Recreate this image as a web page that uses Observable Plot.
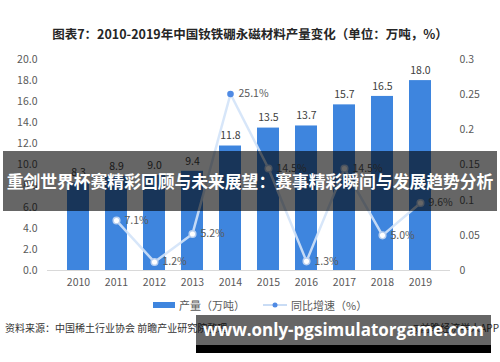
<!DOCTYPE html>
<html>
<head>
<meta charset="utf-8">
<script src="https://cdn.jsdelivr.net/npm/d3@7"></script>
<script src="https://cdn.jsdelivr.net/npm/@observablehq/plot@0.6"></script>
<style>
  html, body { margin: 0; padding: 0; background: #fff; }
  #wrap { position: relative; width: 500px; height: 362px; overflow: hidden; font-family: "Noto Sans CJK SC", "Noto Sans", sans-serif; }
  #chart { position: absolute; left: 0; top: 0; }
  .abs { position: absolute; white-space: nowrap; }
</style>
</head>
<body>
<div id="wrap">
  <div id="chart"></div>
  <div class="abs" id="title" style="left:0;width:500px;top:24px;text-align:center;font-size:12.5px;font-weight:bold;color:#262626;"></div>
  <div class="abs" id="legend" style="left:153px;top:297px;font-size:11px;color:#595959;display:flex;align-items:center;"></div>
  <div class="abs" id="source" style="left:5px;top:320px;font-size:10px;color:#333;"></div>
  <div class="abs" id="credit" style="right:1px;top:320px;font-size:10px;color:#333;"></div>
  <div class="abs" id="banner" style="left:3px;width:494px;top:151px;height:60px;background:rgba(0,0,0,0.6);color:#fff;font-weight:bold;font-size:16.8px;line-height:60px;text-align:center;"></div>
  <div class="abs" id="url" style="left:196px;width:295px;top:315px;height:38px;background:linear-gradient(to bottom, rgba(0,0,0,0.6) 0px, rgba(0,0,0,0.6) 30px, #000 30px, #000 38px);color:#fff;font-weight:bold;font-family:'Open Sans','Noto Sans',sans-serif;font-size:17px;line-height:30px;text-align:center;"></div>
</div>
<script>
// ---- data ----
const years = ["2010","2011","2012","2013","2014","2015","2016","2017","2018","2019"];
const production = [8.3, 8.9, 9.0, 9.4, 11.8, 13.5, 13.7, 15.7, 16.5, 18.0];
const growth = [null, 7.1, 1.2, 5.2, 25.1, 14.5, 1.3, 14.5, 5.0, 9.6];
const leftTicks = [0, 2, 4, 6, 8, 10, 12, 14, 16, 18, 20];
const rightTicks = [0, 0.05, 0.1, 0.15, 0.2, 0.25, 0.3];
const highlightYear = "2014";

const titleText = "图表7：2010-2019年中国钕铁硼永磁材料产量变化（单位：万吨，%）";
const legendBar = "产量（万吨）";
const legendLine = "同比增速（%）";
const sourceText = "资料来源：中国稀土行业协会  前瞻产业研究院整理";
const creditText = "@前瞻经济学人APP";
const bannerText = "重剑世界杯赛精彩回顾与未来展望：赛事精彩瞬间与发展趋势分析";
const urlText = "www.only-pgsimulatorgame.com";

// ---- build ----
const rows = years.map((y, i) => ({year: y, prod: production[i], growth: growth[i]}));
const rightMax = 0.3, leftMax = 20;
const g2y = g => g / 100 / rightMax * leftMax;
const lineRows = rows.filter(d => d.growth != null);

const plot = Plot.plot({
  width: 500,
  height: 290,
  marginTop: 59,
  marginBottom: 20,
  marginLeft: 47,
  marginRight: 50,
  style: {fontFamily: "'Noto Sans CJK SC', 'Noto Sans', sans-serif", fontSize: "10px", color: "#595959", background: "transparent", overflow: "visible"},
  x: {type: "band", domain: years, padding: 0.43, axis: null},
  y: {domain: [0, leftMax], axis: null},
  marks: [
    Plot.axisX({tickSize: 0, tickPadding: 8, fontSize: 10.5, color: "#595959", label: null}),
    Plot.axisY(leftTicks, {anchor: "left", tickSize: 0, tickPadding: 10, tickFormat: d3.format(".1f"), fontSize: 10.5, color: "#595959", label: null}),
    Plot.axisY(rightTicks.map(t => t / rightMax * leftMax), {anchor: "right", tickSize: 0, tickPadding: 9, tickFormat: d => String(+(d * rightMax / leftMax).toFixed(2)), fontSize: 10.5, color: "#595959", label: null}),
    Plot.barY(rows, {x: "year", y: "prod", fill: "#3e85de"}),
    Plot.ruleY([0], {stroke: "#d9d9d9", strokeWidth: 1}),
    Plot.text(rows, {x: "year", y: "prod", text: d => d.prod.toFixed(1), dy: -10, fontSize: 10.5, fill: "#404040"}),
    Plot.line(lineRows, {x: "year", y: d => g2y(d.growth), stroke: "#d3e3f8", strokeWidth: 2.5, strokeOpacity: 0.9}),
    Plot.dot(lineRows.filter(d => d.year !== highlightYear), {x: "year", y: d => g2y(d.growth), r: 3.3, fill: "#fff", stroke: "#b9d0f0", strokeWidth: 1.5}),
    Plot.dot(lineRows.filter(d => d.year === highlightYear), {x: "year", y: d => g2y(d.growth), r: 3.3, fill: "#4f8ae4", stroke: "none"}),
    Plot.text(lineRows, {x: "year", y: d => g2y(d.growth), text: d => d.growth.toFixed(1) + "%", dx: 8, textAnchor: "start", fontSize: 10.5, fill: "#595959"})
  ]
});
document.getElementById("chart").appendChild(plot);

document.getElementById("title").textContent = titleText;
document.getElementById("source").textContent = sourceText;
document.getElementById("credit").textContent = creditText;
document.getElementById("banner").textContent = bannerText;
document.getElementById("url").textContent = urlText;

const lg = document.getElementById("legend");
lg.innerHTML =
  '<svg width="24" height="10" style="margin-right:2px"><rect x="0" y="2" width="22" height="6" fill="#3e85de"/></svg>' +
  '<span></span>' +
  '<svg width="26" height="10" style="margin-left:18px;margin-right:2px"><line x1="0" y1="5" x2="24" y2="5" stroke="#c9dcf5" stroke-width="2"/><circle cx="12" cy="5" r="2.5" fill="#4f8ae4"/></svg>' +
  '<span></span>';
const spans = lg.querySelectorAll("span");
spans[0].textContent = legendBar;
spans[1].textContent = legendLine;
</script>
</body>
</html>
